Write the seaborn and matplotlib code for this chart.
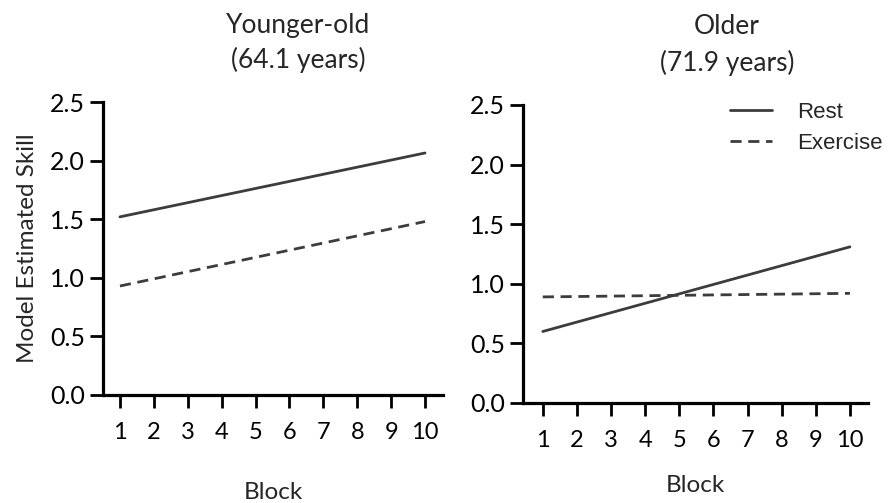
import pandas as pd
import matplotlib
matplotlib.use("Agg")
import matplotlib.pyplot as plt
import seaborn as sns

# Model fit lines (start and end of blocks)
blocks = [1, 10]
young_rest = [1.52, 2.065]
young_exercise = [0.93, 1.48]
older_rest = [0.60, 1.31]
older_exercise = [0.89, 0.92]
conditions = ["Rest", "Exercise"]
block_ticks = list(range(1, 11))
skill_ticks = [0.0, 0.5, 1.0, 1.5, 2.0, 2.5]

young = pd.DataFrame({
    "Block": blocks * 2,
    "Skill": young_rest + young_exercise,
    "Condition": [conditions[0]] * 2 + [conditions[1]] * 2,
})
older = pd.DataFrame({
    "Block": blocks * 2,
    "Skill": older_rest + older_exercise,
    "Condition": [conditions[0]] * 2 + [conditions[1]] * 2,
})

sns.set_style("ticks")
plt.rcParams["font.family"] = ["Lato", "DejaVu Sans"]

fig = plt.figure(figsize=(8.92, 5.03), dpi=100)
ax1 = fig.add_axes([103 / 892, 1 - 395 / 503, 340 / 892, 293 / 503])
ax2 = fig.add_axes([523 / 892, 1 - 403 / 503, 345 / 892, 298 / 503])

line_color = "#3c3c3c"
dash_map = {"Rest": "", "Exercise": (4, 2.4)}

sns.lineplot(data=young, x="Block", y="Skill", style="Condition", dashes=dash_map,
             color=line_color, linewidth=2.0, legend=False, ax=ax1)
sns.lineplot(data=older, x="Block", y="Skill", style="Condition", dashes=dash_map,
             color=line_color, linewidth=2.0, legend=True, ax=ax2)

for ax, xmin in [(ax1, 0.5), (ax2, 0.42)]:
    ax.set_xlim(xmin, 10.53)
    ax.set_ylim(0, 2.5)
    ax.set_xticks(block_ticks)
    ax.set_xticklabels([str(b) for b in block_ticks], fontsize=17)
    ax.set_yticks(skill_ticks)
    ax.set_yticklabels([f"{v:.1f}" for v in skill_ticks], fontsize=18)
    sns.despine(ax=ax)
    for side in ["left", "bottom"]:
        ax.spines[side].set_linewidth(2.3)
        ax.spines[side].set_color("black")
    ax.tick_params(axis="x", length=9.5, width=2.0, pad=10, colors="black")
    ax.tick_params(axis="y", length=9.5, width=2.0, pad=3.5, colors="black")
    ax.set_ylabel("")

ax1.set_xlabel("Block", fontsize=17.5, labelpad=28)
ax2.set_xlabel("Block", fontsize=17.5, labelpad=17)
ax1.set_ylabel("Model Estimated Skill", fontsize=17.5)
ax1.yaxis.set_label_coords(-0.19, 0.5)

# Panel titles
fig.text(298 / 892, 1 - 25 / 503, "Younger-old", ha="center", va="center", fontsize=19)
fig.text(298 / 892, 1 - 60 / 503, "(64.1 years)", ha="center", va="center", fontsize=19)
fig.text(727 / 892, 1 - 27 / 503, "Older", ha="center", va="center", fontsize=19)
fig.text(727 / 892, 1 - 63 / 503, "(71.9 years)", ha="center", va="center", fontsize=19)

sns.move_legend(ax2, loc="upper left", bbox_to_anchor=(0.6, 1.01), frameon=False,
                title=None, prop={"family": "Liberation Sans", "size": 16},
                handlelength=1.9, handletextpad=1.1, labelspacing=0.45,
                borderpad=0, borderaxespad=0)

plt.savefig("out.png", dpi=100)
